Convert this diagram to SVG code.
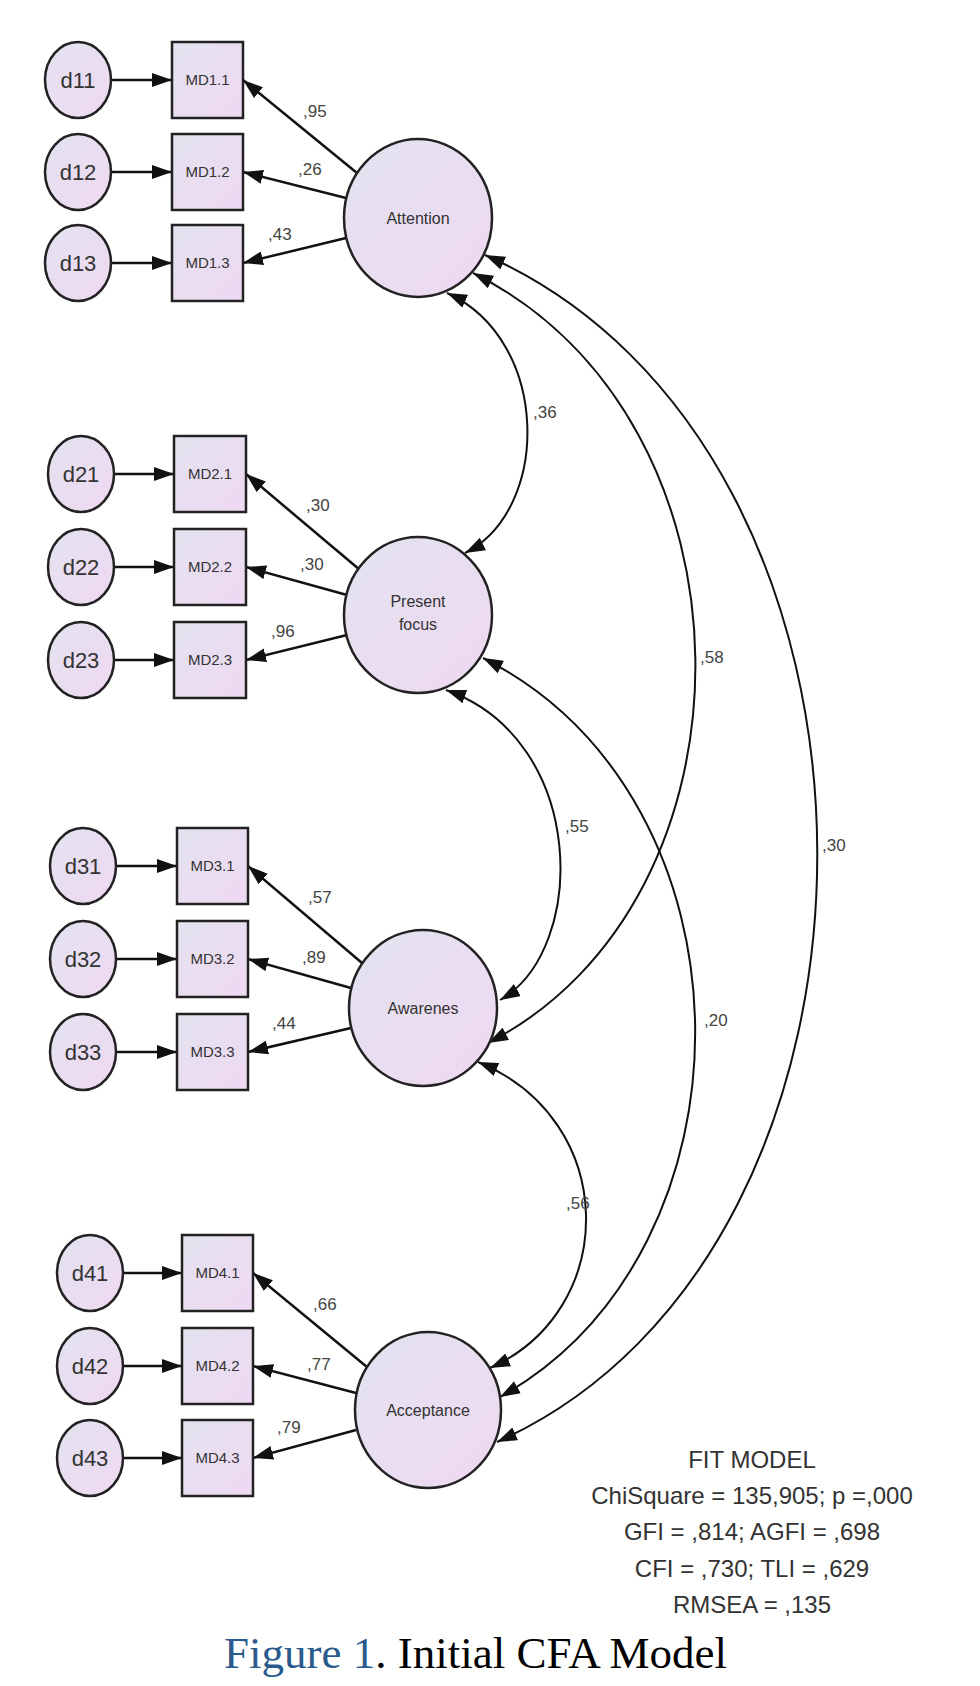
<svg xmlns="http://www.w3.org/2000/svg" width="980" height="1686" viewBox="0 0 980 1686">
<style>
.n{stroke:#222;stroke-width:2.5;fill:url(#g)}
.c{stroke:#111;stroke-width:2.5;fill:none}
.cv{stroke:#111;stroke-width:2;fill:none}
.t{font-family:"Liberation Sans",Arial,sans-serif;fill:#333;text-anchor:middle}
.d{font-size:22px}
.m{font-size:15px}
.l{font-size:16px}
.v{font-family:"Liberation Sans",Arial,sans-serif;font-size:17px;fill:#444}
.f{font-family:"Liberation Sans",Arial,sans-serif;font-size:24px;fill:#333;text-anchor:middle}
</style>
<defs>
<linearGradient id="g" x1="0" y1="0" x2="1" y2="1"><stop offset="0" stop-color="#e3e3ef"/><stop offset="1" stop-color="#efd8f2"/></linearGradient>
<marker id="a" markerUnits="userSpaceOnUse" markerWidth="20" markerHeight="14" refX="20" refY="7" orient="auto-start-reverse"><path d="M0,0 L20,7 L0,14 Z" fill="#111"/></marker>
</defs>
<g id="connectors">
<path class="c" d="M112,80 L172,80" marker-end="url(#a)"/>
<path class="c" d="M112,172 L172,172" marker-end="url(#a)"/>
<path class="c" d="M112,263 L172,263" marker-end="url(#a)"/>
<path class="c" d="M115,474 L174,474" marker-end="url(#a)"/>
<path class="c" d="M115,567 L174,567" marker-end="url(#a)"/>
<path class="c" d="M115,660 L174,660" marker-end="url(#a)"/>
<path class="c" d="M117,866 L177,866" marker-end="url(#a)"/>
<path class="c" d="M117,959 L177,959" marker-end="url(#a)"/>
<path class="c" d="M117,1052 L177,1052" marker-end="url(#a)"/>
<path class="c" d="M124,1273 L182,1273" marker-end="url(#a)"/>
<path class="c" d="M124,1366 L182,1366" marker-end="url(#a)"/>
<path class="c" d="M124,1458 L182,1458" marker-end="url(#a)"/>
<path class="c" d="M357,173 L243,80" marker-end="url(#a)"/>
<path class="c" d="M346,198 L243,172" marker-end="url(#a)"/>
<path class="c" d="M346,238 L243,263" marker-end="url(#a)"/>
<path class="c" d="M360,570 L246,474" marker-end="url(#a)"/>
<path class="c" d="M347,595 L246,567" marker-end="url(#a)"/>
<path class="c" d="M347,635 L246,660" marker-end="url(#a)"/>
<path class="c" d="M362,963 L248,866" marker-end="url(#a)"/>
<path class="c" d="M351,988 L248,959" marker-end="url(#a)"/>
<path class="c" d="M351,1028 L248,1052" marker-end="url(#a)"/>
<path class="c" d="M367,1367 L253,1273" marker-end="url(#a)"/>
<path class="c" d="M356,1393 L253,1366" marker-end="url(#a)"/>
<path class="c" d="M356,1430 L253,1458" marker-end="url(#a)"/>
<path class="cv" d="M447,293 C551,340 551,510 465,553" marker-start="url(#a)" marker-end="url(#a)"/>
<path class="cv" d="M446,690 C588,740 588,950 500,1000" marker-start="url(#a)" marker-end="url(#a)"/>
<path class="cv" d="M478,1062 C620,1120 620,1310 490,1368" marker-start="url(#a)" marker-end="url(#a)"/>
<path class="cv" d="M473,273 C767,420 767,900 488,1043" marker-start="url(#a)" marker-end="url(#a)"/>
<path class="cv" d="M483,658 C763,800 763,1250 500,1397" marker-start="url(#a)" marker-end="url(#a)"/>
<path class="cv" d="M485,255 C926,450 926,1250 497,1442" marker-start="url(#a)" marker-end="url(#a)"/>
</g>
<g id="labels">
<text class="v" x="303" y="117">,95</text><text class="v" x="298" y="175">,26</text><text class="v" x="268" y="240">,43</text>
<text class="v" x="306" y="511">,30</text><text class="v" x="300" y="570">,30</text><text class="v" x="271" y="637">,96</text>
<text class="v" x="308" y="903">,57</text><text class="v" x="302" y="963">,89</text><text class="v" x="272" y="1029">,44</text>
<text class="v" x="313" y="1310">,66</text><text class="v" x="307" y="1370">,77</text><text class="v" x="277" y="1433">,79</text>
<text class="v" x="533" y="418">,36</text><text class="v" x="565" y="832">,55</text><text class="v" x="566" y="1209">,56</text>
<text class="v" x="700" y="663">,58</text><text class="v" x="704" y="1026">,20</text><text class="v" x="822" y="851">,30</text>
</g>
<g id="d11"><ellipse class="n" cx="78" cy="80" rx="33" ry="38"/><text class="t d" x="78" y="88">d11</text></g>
<g id="d12"><ellipse class="n" cx="78" cy="172" rx="33" ry="38"/><text class="t d" x="78" y="180">d12</text></g>
<g id="d13"><ellipse class="n" cx="78" cy="263" rx="33" ry="38"/><text class="t d" x="78" y="271">d13</text></g>
<g id="d21"><ellipse class="n" cx="81" cy="474" rx="33" ry="38"/><text class="t d" x="81" y="482">d21</text></g>
<g id="d22"><ellipse class="n" cx="81" cy="567" rx="33" ry="38"/><text class="t d" x="81" y="575">d22</text></g>
<g id="d23"><ellipse class="n" cx="81" cy="660" rx="33" ry="38"/><text class="t d" x="81" y="668">d23</text></g>
<g id="d31"><ellipse class="n" cx="83" cy="866" rx="33" ry="38"/><text class="t d" x="83" y="874">d31</text></g>
<g id="d32"><ellipse class="n" cx="83" cy="959" rx="33" ry="38"/><text class="t d" x="83" y="967">d32</text></g>
<g id="d33"><ellipse class="n" cx="83" cy="1052" rx="33" ry="38"/><text class="t d" x="83" y="1060">d33</text></g>
<g id="d41"><ellipse class="n" cx="90" cy="1273" rx="33" ry="38"/><text class="t d" x="90" y="1281">d41</text></g>
<g id="d42"><ellipse class="n" cx="90" cy="1366" rx="33" ry="38"/><text class="t d" x="90" y="1374">d42</text></g>
<g id="d43"><ellipse class="n" cx="90" cy="1458" rx="33" ry="38"/><text class="t d" x="90" y="1466">d43</text></g>
<g id="MD1.1"><rect class="n" x="172" y="42" width="71" height="76"/><text class="t m" x="207.5" y="85">MD1.1</text></g>
<g id="MD1.2"><rect class="n" x="172" y="134" width="71" height="76"/><text class="t m" x="207.5" y="177">MD1.2</text></g>
<g id="MD1.3"><rect class="n" x="172" y="225" width="71" height="76"/><text class="t m" x="207.5" y="268">MD1.3</text></g>
<g id="MD2.1"><rect class="n" x="174" y="436" width="72" height="76"/><text class="t m" x="210" y="479">MD2.1</text></g>
<g id="MD2.2"><rect class="n" x="174" y="529" width="72" height="76"/><text class="t m" x="210" y="572">MD2.2</text></g>
<g id="MD2.3"><rect class="n" x="174" y="622" width="72" height="76"/><text class="t m" x="210" y="665">MD2.3</text></g>
<g id="MD3.1"><rect class="n" x="177" y="828" width="71" height="76"/><text class="t m" x="212.5" y="871">MD3.1</text></g>
<g id="MD3.2"><rect class="n" x="177" y="921" width="71" height="76"/><text class="t m" x="212.5" y="964">MD3.2</text></g>
<g id="MD3.3"><rect class="n" x="177" y="1014" width="71" height="76"/><text class="t m" x="212.5" y="1057">MD3.3</text></g>
<g id="MD4.1"><rect class="n" x="182" y="1235" width="71" height="76"/><text class="t m" x="217.5" y="1278">MD4.1</text></g>
<g id="MD4.2"><rect class="n" x="182" y="1328" width="71" height="76"/><text class="t m" x="217.5" y="1371">MD4.2</text></g>
<g id="MD4.3"><rect class="n" x="182" y="1420" width="71" height="76"/><text class="t m" x="217.5" y="1463">MD4.3</text></g>
<g id="Attention"><ellipse class="n" cx="418" cy="218" rx="74" ry="79"/><text class="t l" x="418" y="224">Attention</text></g>
<g id="PresentFocus"><ellipse class="n" cx="418" cy="615" rx="74" ry="78"/><text class="t l" x="418" y="607">Present</text><text class="t l" x="418" y="630">focus</text></g>
<g id="Awarenes"><ellipse class="n" cx="423" cy="1008" rx="74" ry="78"/><text class="t l" x="423" y="1014">Awarenes</text></g>
<g id="Acceptance"><ellipse class="n" cx="428" cy="1410" rx="73" ry="78"/><text class="t l" x="428" y="1416">Acceptance</text></g>
<g id="fit">
<text class="f" x="752" y="1468">FIT MODEL</text>
<text class="f" x="752" y="1504">ChiSquare = 135,905; p =,000</text>
<text class="f" x="752" y="1540">GFI = ,814; AGFI = ,698</text>
<text class="f" x="752" y="1577">CFI = ,730; TLI = ,629</text>
<text class="f" x="752" y="1613">RMSEA = ,135</text>
</g>
<text x="224" y="1668" font-family="'Liberation Serif','Times New Roman',serif" font-size="45"><tspan fill="#2b5b8c">Figure 1</tspan><tspan fill="#000">. Initial CFA Model</tspan></text>
</svg>
